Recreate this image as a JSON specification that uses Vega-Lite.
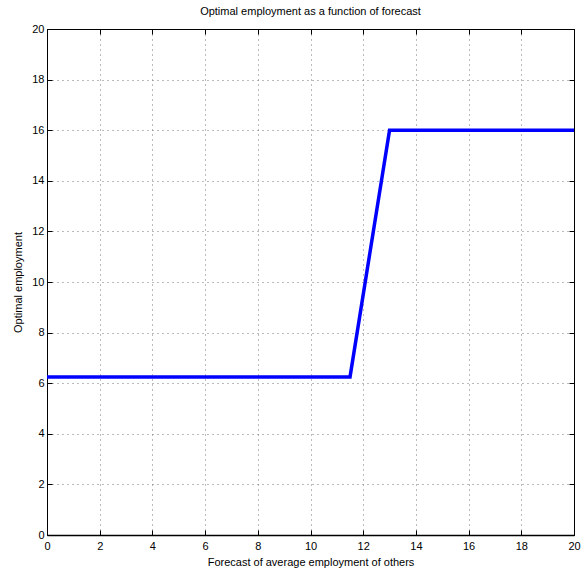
{
  "$schema": "https://vega.github.io/schema/vega-lite/v6.json",
  "autosize": {"type": "none"},
  "width": 527,
  "height": 506,
  "padding": {"left": 47, "top": 29, "right": 7, "bottom": 38},
  "background": "white",
  "title": {"text": "Optimal employment as a function of forecast", "font": "Liberation Sans", "fontSize": 11, "fontWeight": "normal", "color": "black", "offset": 6},
  "config": {
    "view": {"stroke": "black", "strokeWidth": 1},
    "axis": {"labelFont": "Liberation Sans", "titleFont": "Liberation Sans", "labelFontSize": 11, "titleFontSize": 11, "titleFontWeight": "normal", "labelColor": "black", "titleColor": "black", "domainColor": "black", "tickColor": "black"}
  },
  "data": {"values": [
    {"x": 0, "y": 6.25},
    {"x": 11.5, "y": 6.25},
    {"x": 13, "y": 16},
    {"x": 20, "y": 16}
  ]},
  "layer": [
    {
      "mark": {"type": "line", "color": "#0000ff", "strokeWidth": 3.5, "strokeJoin": "miter"},
      "encoding": {
        "x": {"field": "x", "type": "quantitative", "scale": {"domain": [0, 20], "nice": false, "zero": false},
          "axis": {"title": "Forecast of average employment of others", "values": [0,2,4,6,8,10,12,14,16,18,20], "format": "d", "tickSize": -5, "labelPadding": 10, "titlePadding": 5, "grid": true, "gridDash": [1, 4], "gridColor": "#777", "gridOpacity": 1, "labelFlush": false, "domainWidth": 1.5}},
        "y": {"field": "y", "type": "quantitative", "scale": {"domain": [0, 20], "nice": false, "zero": false},
          "axis": {"title": "Optimal employment", "values": [0,2,4,6,8,10,12,14,16,18,20], "format": "d", "tickSize": -5, "labelPadding": 8, "titlePadding": 8, "grid": true, "gridDash": [1, 4], "gridColor": "#777", "gridOpacity": 1, "labelFlush": false}}
      }
    },
    {
      "mark": {"type": "point", "opacity": 0},
      "encoding": {
        "x": {"field": "x", "type": "quantitative", "axis": {"orient": "top", "values": [0,2,4,6,8,10,12,14,16,18,20], "labels": false, "title": null, "tickSize": -5, "grid": false}},
        "y": {"field": "y", "type": "quantitative", "axis": {"orient": "right", "values": [0,2,4,6,8,10,12,14,16,18,20], "labels": false, "title": null, "tickSize": -5, "grid": false}}
      }
    }
  ],
  "resolve": {"axis": {"x": "independent", "y": "independent"}}
}
